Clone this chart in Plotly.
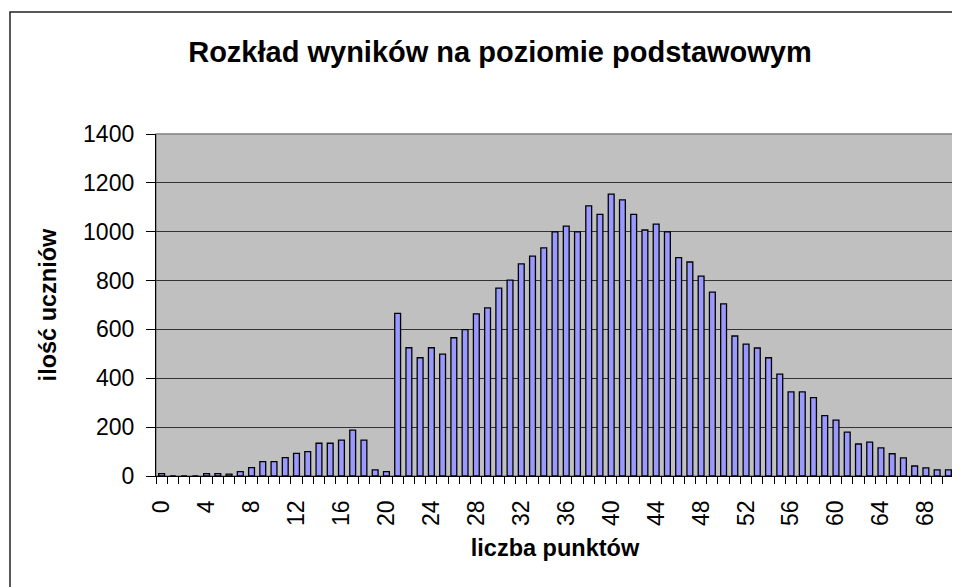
import plotly.graph_objects as go

points = list(range(0, 71))
students = [10, 0, 0, 0, 10, 10, 8, 18, 34, 59,
            59, 75, 93, 100, 134, 134, 147, 188, 147, 25,
            18, 666, 525, 484, 525, 499, 566, 599, 664, 688,
            769, 802, 868, 900, 934, 999, 1023, 999, 1106, 1071,
            1154, 1130, 1071, 1007, 1031, 999, 894, 876, 818, 753,
            705, 573, 540, 524, 484, 417, 344, 344, 321, 247,
            229, 180, 131, 139, 115, 91, 74, 41, 33, 25,
            25]
x_tick_vals = list(range(0, 69, 4))
y_tick_vals = [0, 200, 400, 600, 800, 1000, 1200, 1400]

title_text = "Rozkład wyników na poziomie podstawowym"
x_title = "liczba punktów"
y_title = "ilość uczniów"

FONT = "Liberation Sans, Arial, sans-serif"
# page body has an 8px default margin, so the figure is sized/offset to fit
OFF = 8
W, H = 960 - OFF, 587 - OFF
L, R, T, B = 156 - OFF, 6, 134 - OFF, 111
pw, ph = W - L - R, H - T - B

fig = go.Figure(go.Bar(
    x=points, y=students,
    marker=dict(color="#9999FF", line=dict(color="black", width=1.3)),
    width=0.52,
))

fig.update_layout(
    width=W, height=H,
    margin=dict(l=L, r=R, t=T, b=B),
    paper_bgcolor="white",
    plot_bgcolor="#C0C0C0",
    showlegend=False,
    font=dict(family=FONT, color="black"),
    title=dict(text="<b>" + title_text + "</b>", x=(500 - OFF) / W, xanchor="center",
               xref="container", yref="container", y=1 - (52 - OFF) / H, yanchor="middle",
               font=dict(size=29, family=FONT, color="black")),
)

fig.update_xaxes(
    range=[-0.5, 70.5],
    tickmode="array", tickvals=x_tick_vals, ticktext=[str(v) for v in x_tick_vals],
    tickangle=-90, ticks="", showgrid=False, zeroline=False,
    tickfont=dict(size=23, family=FONT, color="black"),
    ticklabelstandoff=14,
    showline=True, linecolor="black", linewidth=1.3,
    minor=dict(tickmode="array", tickvals=[p - 0.5 for p in points] + [points[-1] + 0.5],
               ticks="outside", ticklen=7, tickcolor="black", tickwidth=1, showgrid=False),
    title=dict(text="<b>" + x_title + "</b>", font=dict(size=23.5, family=FONT, color="black"),
               standoff=14),
)

fig.update_yaxes(
    range=[0, 1400],
    tickmode="array", tickvals=y_tick_vals,
    ticks="outside", ticklen=9, tickcolor="black", tickwidth=1,
    tickfont=dict(size=23, family=FONT, color="black"),
    ticklabelstandoff=7,
    showgrid=True, gridcolor="#333333", gridwidth=1,
    zeroline=False,
    showline=True, linecolor="black", linewidth=1.3,
    title=dict(text="<b>" + y_title + "</b>", font=dict(size=23.5, family=FONT, color="black"),
               standoff=19),
)

# plot area frame (grey) and outer chart frame
fig.add_shape(type="rect", xref="paper", yref="paper", x0=0, x1=1, y0=0, y1=1,
              line=dict(color="#808080", width=1.5), layer="below")
fig.add_shape(type="rect", xref="paper", yref="paper",
              x0=(10 - OFF - L) / pw, x1=(W + 5 - L) / pw,
              y0=(H - B - (H + 5)) / ph, y1=(H - B - (12 - OFF)) / ph,
              line=dict(color="#222222", width=1.5), layer="above")

fig.write_html("out.html")
